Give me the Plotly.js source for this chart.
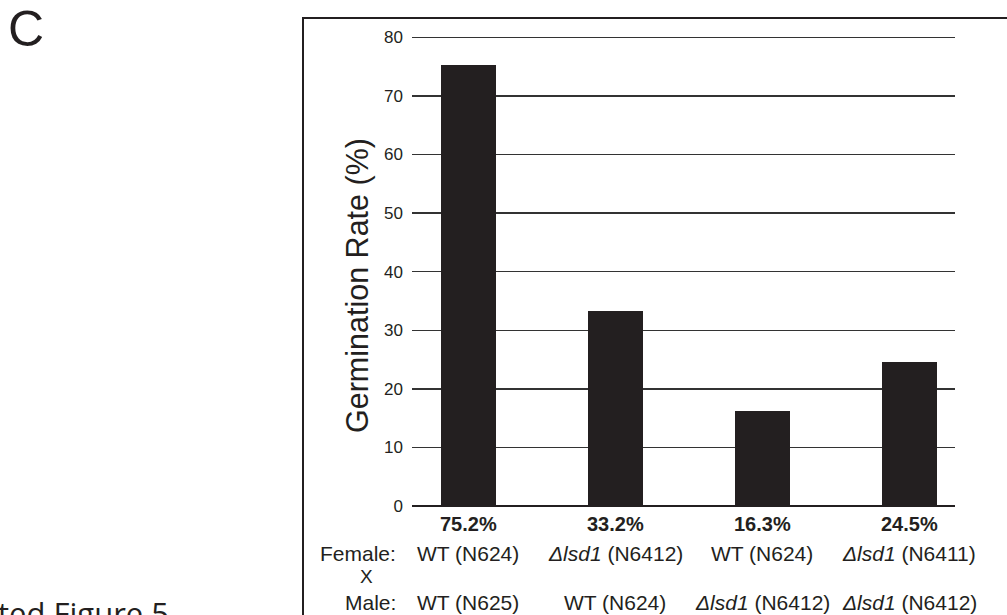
<!DOCTYPE html>
<html>
<head>
<meta charset="utf-8">
<script src="https://cdn.plot.ly/plotly-3.0.1.min.js"></script>
<style>
html,body{margin:0;padding:0;background:#fff;}
#chart{width:1007px;height:615px;}
</style>
</head>
<body>
<div id="chart"></div>
<script>
// ---- data ----
var crosses = ["Cross 1", "Cross 2", "Cross 3", "Cross 4"];
var germinationRate = [75.2, 33.2, 16.3, 24.5];
var femaleLabels = ["WT (N624)", "<i>Δlsd1</i> (N6412)", "WT (N624)", "<i>Δlsd1</i> (N6411)"];
var maleLabels = ["WT (N625)", "WT (N624)", "<i>Δlsd1</i> (N6412)", "<i>Δlsd1</i> (N6412)"];
var yTicks = [0, 10, 20, 30, 40, 50, 60, 70, 80];

// ---- layout geometry (pixels) ----
var W = 1007, H = 615;
var L = 412, R = 955, T = 36, B = 506;
function px(x){ return (x - L) / (R - L); }
function py(y){ return (B - y) / (B - T); }

var ink = '#231f20';
var font = 'Liberation Sans, Arial, Helvetica, sans-serif';

var xIdx = crosses.map(function(_, i){ return i; });

var trace = {
  type: 'bar',
  x: xIdx,
  y: germinationRate,
  width: 0.374,
  marker: {color: ink, line: {width: 0}},
  hoverinfo: 'skip'
};

var annotations = [];
xIdx.forEach(function(i){
  annotations.push({xref:'x', yref:'paper', x:i, y:py(524), text:'<b>' + germinationRate[i].toFixed(1) + '%</b>',
    showarrow:false, xanchor:'center', yanchor:'middle', font:{family:font, size:20, color:ink}});
  annotations.push({xref:'x', yref:'paper', x:i, y:py(553), text:femaleLabels[i],
    showarrow:false, xanchor:'center', yanchor:'middle', font:{family:font, size:21, color:ink}});
  annotations.push({xref:'x', yref:'paper', x:i, y:py(602), text:maleLabels[i],
    showarrow:false, xanchor:'center', yanchor:'middle', font:{family:font, size:21, color:ink}});
});
annotations.push({xref:'paper', yref:'paper', x:px(398), y:py(553), text:'Female:', showarrow:false,
  xanchor:'right', yanchor:'middle', font:{family:font, size:21, color:ink}});
annotations.push({xref:'paper', yref:'paper', x:px(366), y:py(576), text:'X', showarrow:false,
  xanchor:'center', yanchor:'middle', font:{family:font, size:19, color:ink}});
annotations.push({xref:'paper', yref:'paper', x:px(398), y:py(602), text:'Male:', showarrow:false,
  xanchor:'right', yanchor:'middle', font:{family:font, size:21, color:ink}});
annotations.push({xref:'paper', yref:'paper', x:px(6), y:py(29), text:'C', showarrow:false,
  xanchor:'left', yanchor:'middle', font:{family:font, size:50, color:ink}});
annotations.push({xref:'paper', yref:'paper', x:px(357), y:py(286), text:'Germination Rate (%)', showarrow:false,
  textangle:-90, xanchor:'center', yanchor:'middle', font:{family:font, size:30.5, color:ink}});
annotations.push({xref:'paper', yref:'paper', x:px(-4), y:py(590), text:'ted Figure 5', showarrow:false,
  xanchor:'left', yanchor:'top', font:{family:'Open Sans, sans-serif', size:31, color:ink}});

var layout = {
  width: W, height: H,
  margin: {l: L, r: W - R, t: T, b: H - B, pad: 0},
  paper_bgcolor: '#fff', plot_bgcolor: '#fff',
  showlegend: false,
  bargap: 0,
  xaxis: {range: [-0.384, 3.31], showticklabels: false, showgrid: false, zeroline: false,
    showline: false, ticks: '', fixedrange: true},
  yaxis: {range: [0, 80.22], tickvals: yTicks, ticktext: yTicks.map(String), ticks: '',
    showgrid: true, gridcolor: '#333333', gridwidth: 1.4,
    zeroline: true, zerolinecolor: ink, zerolinewidth: 1.6,
    showline: false, ticklabelstandoff: 8,
    tickfont: {family: font, size: 17, color: ink},
    automargin: false, fixedrange: true},
  shapes: [{type: 'rect', xref: 'paper', yref: 'paper', layer: 'above',
    x0: px(303), x1: px(1100), y0: py(700), y1: py(18),
    line: {color: ink, width: 2}, fillcolor: 'rgba(0,0,0,0)'}],
  annotations: annotations
};

Plotly.newPlot('chart', [trace], layout, {displayModeBar: false, staticPlot: true});
</script>
</body>
</html>
